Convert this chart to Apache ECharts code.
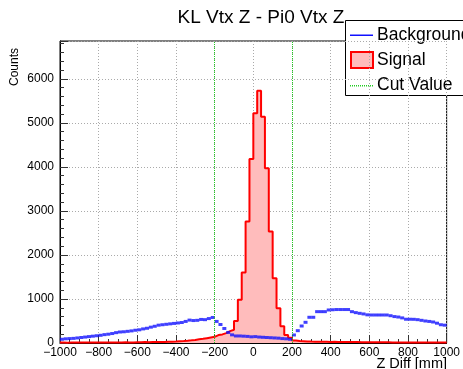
<!DOCTYPE html>
<html>
<head>
<meta charset="utf-8">
<script src="https://cdn.jsdelivr.net/npm/echarts@6/dist/echarts.min.js"></script>
<style>html,body{margin:0;padding:0;background:#fff;}#c{width:463px;height:369px;}</style>
</head>
<body>
<div id="c"></div>
<script>
// Histogram binning (data domain)
const binLow = -1000;
const binWidth = 20;
const xTicks = [-1000, -800, -600, -400, -200, 0, 200, 400, 600, 800, 1000];
const yTicks = [0, 1000, 2000, 3000, 4000, 5000, 6000];
const cutValues = [-200, 200];
const legendNames = ['Background', 'Signal', 'Cut Value'];

// Signal histogram counts (100 bins, -1000..1000)
const signal = [
  10,8,12,10,9,11,10,12,9,13,11,10,14,12,11,13,15,12,14,16,
  18,20,17,22,24,21,25,28,30,32,
  40,45,52,60,70,85,95,110,125,140,
  180,195,225,270,300,500,980,1600,2760,4180,5220,5730,5140,3970,2530,1470,790,380,180,120,
  55,45,40,35,32,30,30,28,27,25,26,24,23,22,22,20,21,19,18,18,
  17,16,16,15,15,14,14,13,13,12,12,12,11,11,10,10,10,9,9,9
];
// Background histogram counts (100 bins)
const background = [
  85,95,100,105,115,125,135,145,155,165,175,190,200,215,235,250,255,265,275,290,
  300,320,335,360,380,405,415,425,435,445,455,465,490,520,510,515,535,530,555,580,
  490,420,330,240,185,160,160,155,150,140,145,135,130,125,120,115,110,100,95,85,
  182,280,386,470,584,584,712,712,712,750,755,760,760,760,760,712,690,674,660,640,
  636,636,636,636,636,620,600,590,570,540,540,538,530,515,500,490,477,450,415,405
];

const sigData = signal.map((v, i) => [binLow + i * binWidth, v]);
sigData.push([binLow + signal.length * binWidth, signal[signal.length - 1]]);
const bkgData = background.map((v, i) => [binLow + (i + 0.5) * binWidth, v]);

const chart = echarts.init(document.getElementById('c'), null, {renderer: 'canvas'});
const font = 'Liberation Sans, Arial, Helvetica, sans-serif';
const BLUE = '#1010ff', RED = '#ff0000', PINK = '#ffbcbc', GREEN = '#22cc22';
const legendText = (txt, y) => ({type: 'text', x: 377, y: y,
  style: {text: txt, fontFamily: font, fontSize: 17.5, fill: '#000', align: 'left', verticalAlign: 'middle'}});
const greenDots = [];
for (let k = 0; k < 23; k += 2) {
  greenDots.push({type: 'rect', shape: {x: 350 + k, y: 85, width: 1, height: 1.5}, style: {fill: GREEN}});
}

chart.setOption({
  animation: false,
  backgroundColor: '#ffffff',
  textStyle: {fontFamily: font},
  grid: {left: 60, right: 16, top: 41, bottom: 26, show: true, borderColor: '#000', borderWidth: 1, backgroundColor: 'transparent'},
  xAxis: {
    type: 'value', min: xTicks[0], max: xTicks[xTicks.length - 1], interval: 200,
    axisLine: {show: true, onZero: false, lineStyle: {color: '#000'}},
    axisTick: {show: true, inside: true, length: 8, lineStyle: {color: '#333'}},
    minorTick: {show: true, splitNumber: 4, length: 4, lineStyle: {color: '#333'}},
    axisLabel: {fontFamily: font, fontSize: 12, color: '#000', margin: 4,
      formatter: v => xTicks.indexOf(v) >= 0 ? String(v).replace('-', '\u2212') : ''},
    splitLine: {show: true, lineStyle: {color: '#aaa', type: [1, 2]}}
  },
  yAxis: {
    type: 'value', min: 0, max: 6860, interval: 1000,
    axisLine: {show: true, onZero: false, lineStyle: {color: '#000'}},
    axisTick: {show: true, inside: true, length: 8, lineStyle: {color: '#333'}},
    minorTick: {show: true, splitNumber: 5, length: 4, lineStyle: {color: '#333'}},
    axisLabel: {fontFamily: font, fontSize: 12, color: '#000', margin: 6, showMaxLabel: false,
      formatter: v => yTicks.indexOf(v) >= 0 ? String(v) : ''},
    splitLine: {show: true, lineStyle: {color: '#aaa', type: [1, 2]}}
  },
  graphic: [
    {type: 'text', x: 261, y: 18,
     style: {text: 'KL Vtx Z - Pi0 Vtx Z', fontFamily: font, fontSize: 19, fill: '#000', align: 'center', verticalAlign: 'middle'}},
    {type: 'text', x: 15, y: 48, rotation: Math.PI / 2,
     style: {text: 'Counts', fontFamily: font, fontSize: 12, fill: '#000', align: 'right', verticalAlign: 'middle'}},
    {type: 'text', x: 447, y: 364,
     style: {text: 'Z Diff [mm]', fontFamily: font, fontSize: 14.5, fill: '#000', align: 'right', verticalAlign: 'middle'}},
    // legend box
    {type: 'group', z: 100, children: [
      {type: 'rect', shape: {x: 345.5, y: 20.5, width: 140, height: 75},
       style: {fill: '#fff', stroke: '#000', lineWidth: 1}},
      {type: 'rect', shape: {x: 350, y: 34.5, width: 23, height: 1.5}, style: {fill: BLUE}},
      legendText(legendNames[0], 35),
      {type: 'rect', shape: {x: 351, y: 52, width: 22, height: 16}, style: {fill: PINK, stroke: RED, lineWidth: 2}},
      legendText(legendNames[1], 60),
      ...greenDots,
      legendText(legendNames[2], 85)
    ]}
  ],
  series: [
    {
      name: 'Signal', type: 'line', step: 'end', data: sigData,
      symbol: 'none', z: 2,
      lineStyle: {color: RED, width: 2},
      itemStyle: {color: RED},
      areaStyle: {color: PINK, opacity: 1, origin: 0}
    },
    {
      name: 'Background', type: 'scatter', data: bkgData,
      symbol: 'rect', symbolSize: [4, 3], z: 3,
      itemStyle: {color: BLUE}
    },
    {
      name: 'Cut Value', type: 'scatter', data: [], z: 4,
      itemStyle: {color: GREEN},
      markLine: {
        silent: true, symbol: ['none', 'none'], label: {show: false},
        lineStyle: {color: GREEN, type: 'dotted', width: 1},
        data: cutValues.map(v => ({xAxis: v}))
      }
    }
  ]
});
</script>
</body>
</html>
